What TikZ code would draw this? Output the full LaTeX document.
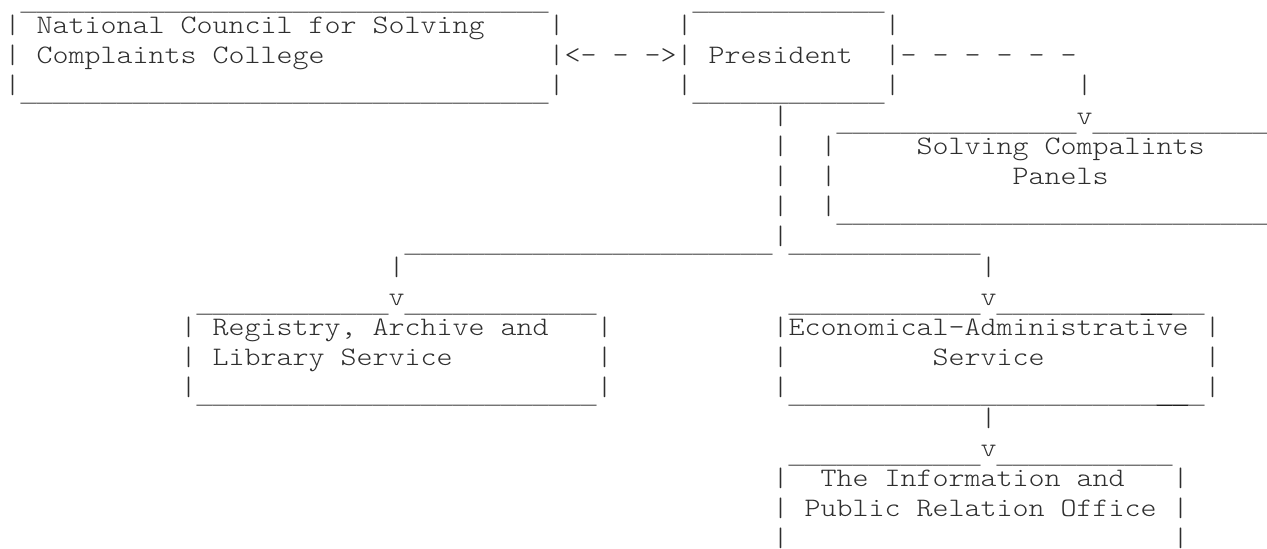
\documentclass[tikz,border=0pt]{standalone}
\usepackage{fontspec}
\IfFontExistsTF{Latin Modern Mono Light}
  {\newfontfamily\courfont[FakeStretch=1.1432]{Latin Modern Mono Light}}
  {\newfontfamily\courfont[FakeStretch=1.1432]{Latin Modern Mono}}
\newfontfamily\lmonofont{Liberation Mono}
\newcount\ucnt
\newcommand\Urun[2]{\raisebox{-3.7pt}{\color{#1}\lmonofont\fontsize{13.33pt}{16pt}\selectfont\ucnt=0 \loop\char"5F\advance\ucnt by 1 \ifnum\ucnt<#2\repeat}}
\newcommand\U[1]{\Urun{black!62}{#1}}
\newcommand\UD[1]{\Urun{black}{#1}}
\newcommand\W[4]{\node[txt] (#1) at ({4.7+16*#2},{3.3+30.2*#3}) {#4};}
\tikzset{
  txt/.style={anchor=base west,inner sep=0pt,outer sep=0pt,
    font=\courfont\fontsize{13.33pt}{16pt}\selectfont,text=black!82}
}
\begin{document}
\begin{tikzpicture}[x=0.5pt,y=-0.5pt]
\useasboundingbox[fill=white] (0,0) rectangle (1267,548);
% row 0
\W{t0a}{1}{0}{\U{33}}
\W{t0b}{43}{0}{\U{12}}
% row 1
\W{b1a}{0}{1}{|}
\W{nat}{2}{1}{National}
\W{cou}{11}{1}{Council}
\W{for}{19}{1}{for}
\W{sol}{23}{1}{Solving}
\W{b1b}{34}{1}{|}
\W{b1c}{42}{1}{|}
\W{b1d}{55}{1}{|}
% row 2
\W{b2a}{0}{2}{|}
\W{cmp}{2}{2}{Complaints}
\W{col}{13}{2}{College}
\W{arl}{34}{2}{|<-}
\W{ard}{38}{2}{-}
\W{arr}{40}{2}{->|}
\W{pre}{44}{2}{President}
\W{d1}{55}{2}{|-}
\W{d2}{58}{2}{-}
\W{d3}{60}{2}{-}
\W{d4}{62}{2}{-}
\W{d5}{64}{2}{-}
\W{d6}{66}{2}{-}
% row 3
\W{b3a}{0}{3}{|\U{33}|}
\W{b3b}{42}{3}{|\U{12}|}
\W{b3c}{67}{3}{|}
% row 4
\W{b4a}{48}{4}{|}
\W{t4}{52}{4}{\U{15}v\U{11}}
% row 5
\W{b5a}{48}{5}{|}
\W{b5b}{51}{5}{|}
\W{scp1}{57}{5}{Solving}
\W{scp2}{65}{5}{Compalints}
% row 6
\W{b6a}{48}{6}{|}
\W{b6b}{51}{6}{|}
\W{pan}{63}{6}{Panels}
% row 7
\W{b7a}{48}{7}{|}
\W{b7b}{51}{7}{|\U{27}}
% row 8
\W{t8}{25}{8}{\U{23}|\U{12}}
% row 9
\W{b9a}{24}{9}{|}
\W{b9b}{61}{9}{|}
% row 10
\W{t10a}{12}{10}{\U{12}v\U{12}}
\W{t10b}{49}{10}{\U{12}v\U{9}\UD{2}\U{2}}
% row 11
\W{b11a}{11}{11}{|}
\W{reg1}{13}{11}{Registry,}
\W{reg2}{23}{11}{Archive}
\W{reg3}{31}{11}{and}
\W{b11b}{37}{11}{|}
\W{eco}{48}{11}{|Economical-Administrative}
\W{b11c}{75}{11}{|}
% row 12
\W{b12a}{11}{12}{|}
\W{lib1}{13}{12}{Library}
\W{lib2}{21}{12}{Service}
\W{b12b}{37}{12}{|}
\W{b12c}{48}{12}{|}
\W{ser}{58}{12}{Service}
\W{b12d}{75}{12}{|}
% row 13
\W{t13a}{11}{13}{|\U{25}|}
\W{t13b}{48}{13}{|\U{23}\UD{2}\U{1}|}
% row 14
\W{b14}{61}{14}{|}
% row 15
\W{t15}{49}{15}{\U{12}v\U{11}}
% row 16
\W{b16a}{48}{16}{|}
\W{inf1}{51}{16}{The}
\W{inf2}{55}{16}{Information}
\W{inf3}{67}{16}{and}
\W{b16b}{73}{16}{|}
% row 17
\W{b17a}{48}{17}{|}
\W{pub1}{50}{17}{Public}
\W{pub2}{57}{17}{Relation}
\W{pub3}{66}{17}{Office}
\W{b17b}{73}{17}{|}
% row 18
\W{b18a}{48}{18}{|}
\W{b18b}{73}{18}{|}
\end{tikzpicture}
\end{document}
